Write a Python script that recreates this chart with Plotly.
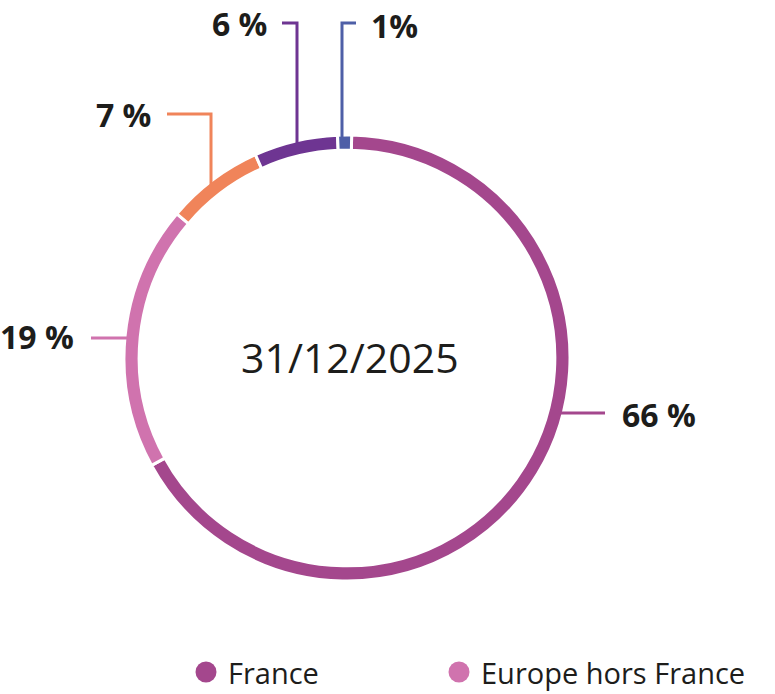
import math
import plotly.graph_objects as go

W, H = 775, 694

# ---- data ----
categories = ["France", "Europe hors France", "Autre 1", "Autre 2", "Autre 3"]
values = [66, 19, 7, 6, 1]
value_labels = ["66 %", "19 %", "7 %", "6 %", "1%"]
colors = ["#a4478d", "#d073ae", "#f0845a", "#6e3592", "#4e5fa7"]
center_label = "31/12/2025"
legend_items = ["France", "Europe hors France"]

# ---- geometry / style ----
CX, CY, R = 347, 358, 223
ROTATION = 1.2
TEXT = "#1d1d1b"


def px(x):
    return x / W


def py(y):
    return 1 - y / H


fig = go.Figure(go.Pie(
    labels=categories, values=values, sort=False, direction="clockwise",
    rotation=ROTATION, hole=0.932, textinfo="none", hoverinfo="skip",
    marker=dict(colors=colors, line=dict(color="white", width=3)),
    showlegend=False,
    domain=dict(x=[px(CX - R), px(CX + R)], y=[py(CY + R), py(CY - R)]),
))

# leader lines: attach angle (deg clockwise from top) + elbow points (pixels)
attach_angles = [104.3, 275.1, 322.4, 347.0, 358.7]
elbows = [
    [(605, 413)],
    [(91, 338)],
    [(211, 114), (167, 114)],
    [(297, 23), (282, 23)],
    [(342, 23), (356, 23)],
]
label_pos = [(620, 414, "left"), (76, 336, "right"), (153, 114, "right"),
             (269, 23, "right"), (369, 26, "left")]

shapes = []
annotations = []
for i in range(len(values)):
    a = math.radians(attach_angles[i])
    r0 = R - 3
    x0 = CX + r0 * math.sin(a)
    if len(elbows[i]) == 2:
        ex = elbows[i][0][0]
        start = (ex, CY - math.sqrt(r0 ** 2 - (ex - CX) ** 2))
    else:
        ey = elbows[i][0][1]
        start = (CX + math.copysign(math.sqrt(r0 ** 2 - (ey - CY) ** 2), x0 - CX), ey)
    pts = [start] + elbows[i]
    path = "M " + " L ".join(f"{px(x):.5f},{py(y):.5f}" for x, y in pts)
    shapes.append(dict(type="path", path=path, xref="paper", yref="paper",
                       line=dict(color=colors[i], width=3)))
    lx, ly, anc = label_pos[i]
    annotations.append(dict(x=px(lx), y=py(ly), xref="paper", yref="paper",
                            text=f"<b>{value_labels[i]}</b>", showarrow=False,
                            xanchor=anc, yanchor="middle",
                            font=dict(family="Open Sans", size=32, color=TEXT)))

annotations.append(dict(x=px(350), y=py(357), xref="paper", yref="paper",
                        text=center_label, showarrow=False,
                        xanchor="center", yanchor="middle",
                        font=dict(family="Open Sans", size=41, color=TEXT)))

# legend (manual)
leg_x = [206, 459]
leg_y = 672
for i, name in enumerate(legend_items):
    shapes.append(dict(type="circle", xref="paper", yref="paper",
                       x0=px(leg_x[i] - 10.5), x1=px(leg_x[i] + 10.5),
                       y0=py(leg_y + 10.5), y1=py(leg_y - 10.5),
                       fillcolor=colors[i], line=dict(width=0)))
    annotations.append(dict(x=px(leg_x[i] + 20), y=py(leg_y), xref="paper", yref="paper",
                            text=name, showarrow=False, xanchor="left", yanchor="middle",
                            font=dict(family="Open Sans", size=29, color=TEXT)))

fig.update_layout(
    width=W, height=H, margin=dict(l=0, r=0, t=0, b=0),
    paper_bgcolor="white", plot_bgcolor="white",
    shapes=shapes, annotations=annotations,
)

fig.write_html("out.html", config={"displayModeBar": False},
               post_script="document.body.style.margin='0';document.body.style.overflow='hidden';")
